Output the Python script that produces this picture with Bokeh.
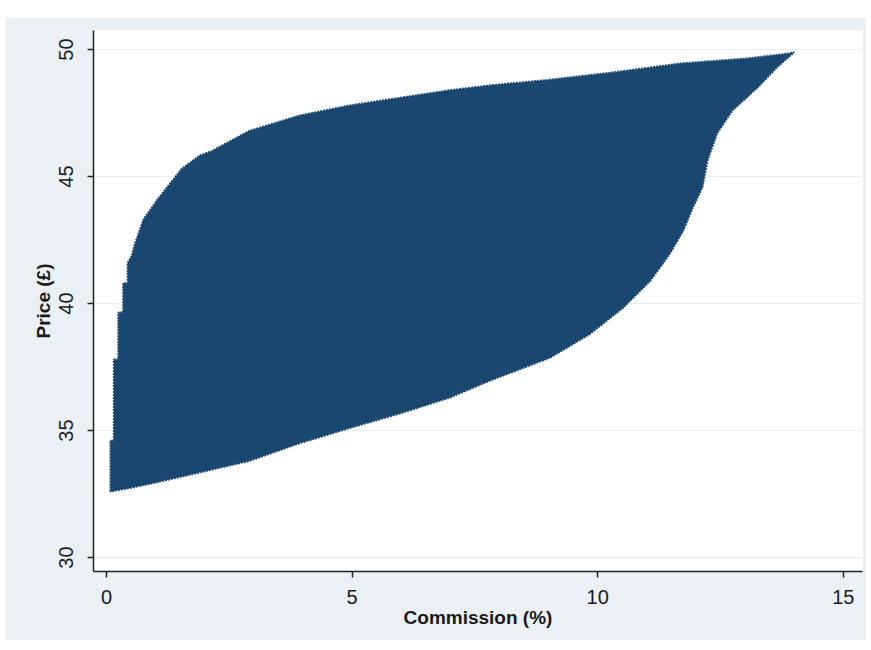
from bokeh.plotting import figure
from bokeh.layouts import column, row
from bokeh.models import Spacer, Range1d, FixedTicker
from bokeh.embed import file_html
from bokeh.resources import INLINE

# Upper boundary of the simulated cloud (commission %, price £)
upper_x = [0.08, 0.08, 0.15, 0.15, 0.24, 0.24, 0.34, 0.34, 0.43, 0.43, 0.52, 0.57, 0.75, 1.04,
           1.53, 1.90, 2.14, 2.91, 3.93, 4.95, 5.97, 6.99, 7.87, 8.97, 10.31, 11.68, 13.04, 13.92, 14.0]
upper_y = [32.6, 34.6, 34.6, 37.8, 37.8, 39.65, 39.65, 40.8, 40.8, 41.6, 41.9, 42.3, 43.3, 44.1,
           45.3, 45.83, 46.0, 46.8, 47.4, 47.8, 48.1, 48.4, 48.6, 48.8, 49.1, 49.45, 49.65, 49.85, 49.9]
# Lower boundary
lower_x = [0.08, 0.5, 1.0, 2.0, 2.9, 3.93, 4.95, 5.97, 6.99, 7.81, 9.03, 9.84, 10.52, 11.07,
           11.47, 11.74, 11.94, 12.13, 12.23, 12.43, 12.74, 13.25, 13.65, 14.0]
lower_y = [32.6, 32.75, 32.95, 33.4, 33.8, 34.5, 35.1, 35.67, 36.3, 36.97, 37.87, 38.8, 39.84, 40.9,
           41.97, 42.87, 43.8, 44.57, 45.6, 46.7, 47.6, 48.5, 49.3, 49.9]

x_ticks = [0, 5, 10, 15]
y_ticks = [30, 35, 40, 45, 50]

BG = "#eaf0f4"
NAVY = "#1a476f"
FONT = "Liberation Sans"

p = figure(width=861, height=623, output_backend="svg", toolbar_location=None,
           x_range=Range1d(-0.265, 15.39), y_range=Range1d(29.45, 50.75),
           min_border_left=88, min_border_right=4, min_border_top=13, min_border_bottom=69)
p.background_fill_color = "white"
p.border_fill_color = BG
p.outline_line_color = None

xs = upper_x + lower_x[::-1]
ys = upper_y + lower_y[::-1]
p.patch(xs, ys, fill_color=NAVY, line_color=NAVY, line_width=2, line_dash="2 1")

p.xgrid.grid_line_color = None
p.ygrid.grid_line_color = "#e8eff2"
p.ygrid.grid_line_width = 1.2
p.ygrid.ticker = FixedTicker(ticks=y_ticks)

for ax in (p.xaxis[0], p.yaxis[0]):
    ax.axis_line_color = "#222222"
    ax.axis_line_width = 1.5
    ax.major_tick_line_color = "#222222"
    ax.major_tick_line_width = 1.5
    ax.major_tick_out = 6
    ax.major_tick_in = 0
    ax.minor_tick_line_color = None
    ax.major_label_text_font = FONT
    ax.major_label_text_font_size = "20px"
    ax.major_label_text_color = "#1a1a1a"
    ax.axis_label_text_font = FONT
    ax.axis_label_text_font_size = "19px"
    ax.axis_label_text_font_style = "bold"
    ax.axis_label_text_color = "#1a1a1a"

p.xaxis.ticker = FixedTicker(ticks=x_ticks)
p.yaxis.ticker = FixedTicker(ticks=y_ticks)
p.xaxis.axis_label = "Commission (%)"
p.yaxis.axis_label = "Price (£)"
p.yaxis.major_label_orientation = "vertical"
p.xaxis.major_label_standoff = 12
p.xaxis.axis_label_standoff = 0
p.yaxis.major_label_standoff = 14
p.yaxis.axis_label_standoff = 3

layout = column(Spacer(width=866, height=17),
                row(Spacer(width=5, height=623), p, spacing=0),
                spacing=0)

open("out.html", "w").write(file_html(layout, INLINE))
